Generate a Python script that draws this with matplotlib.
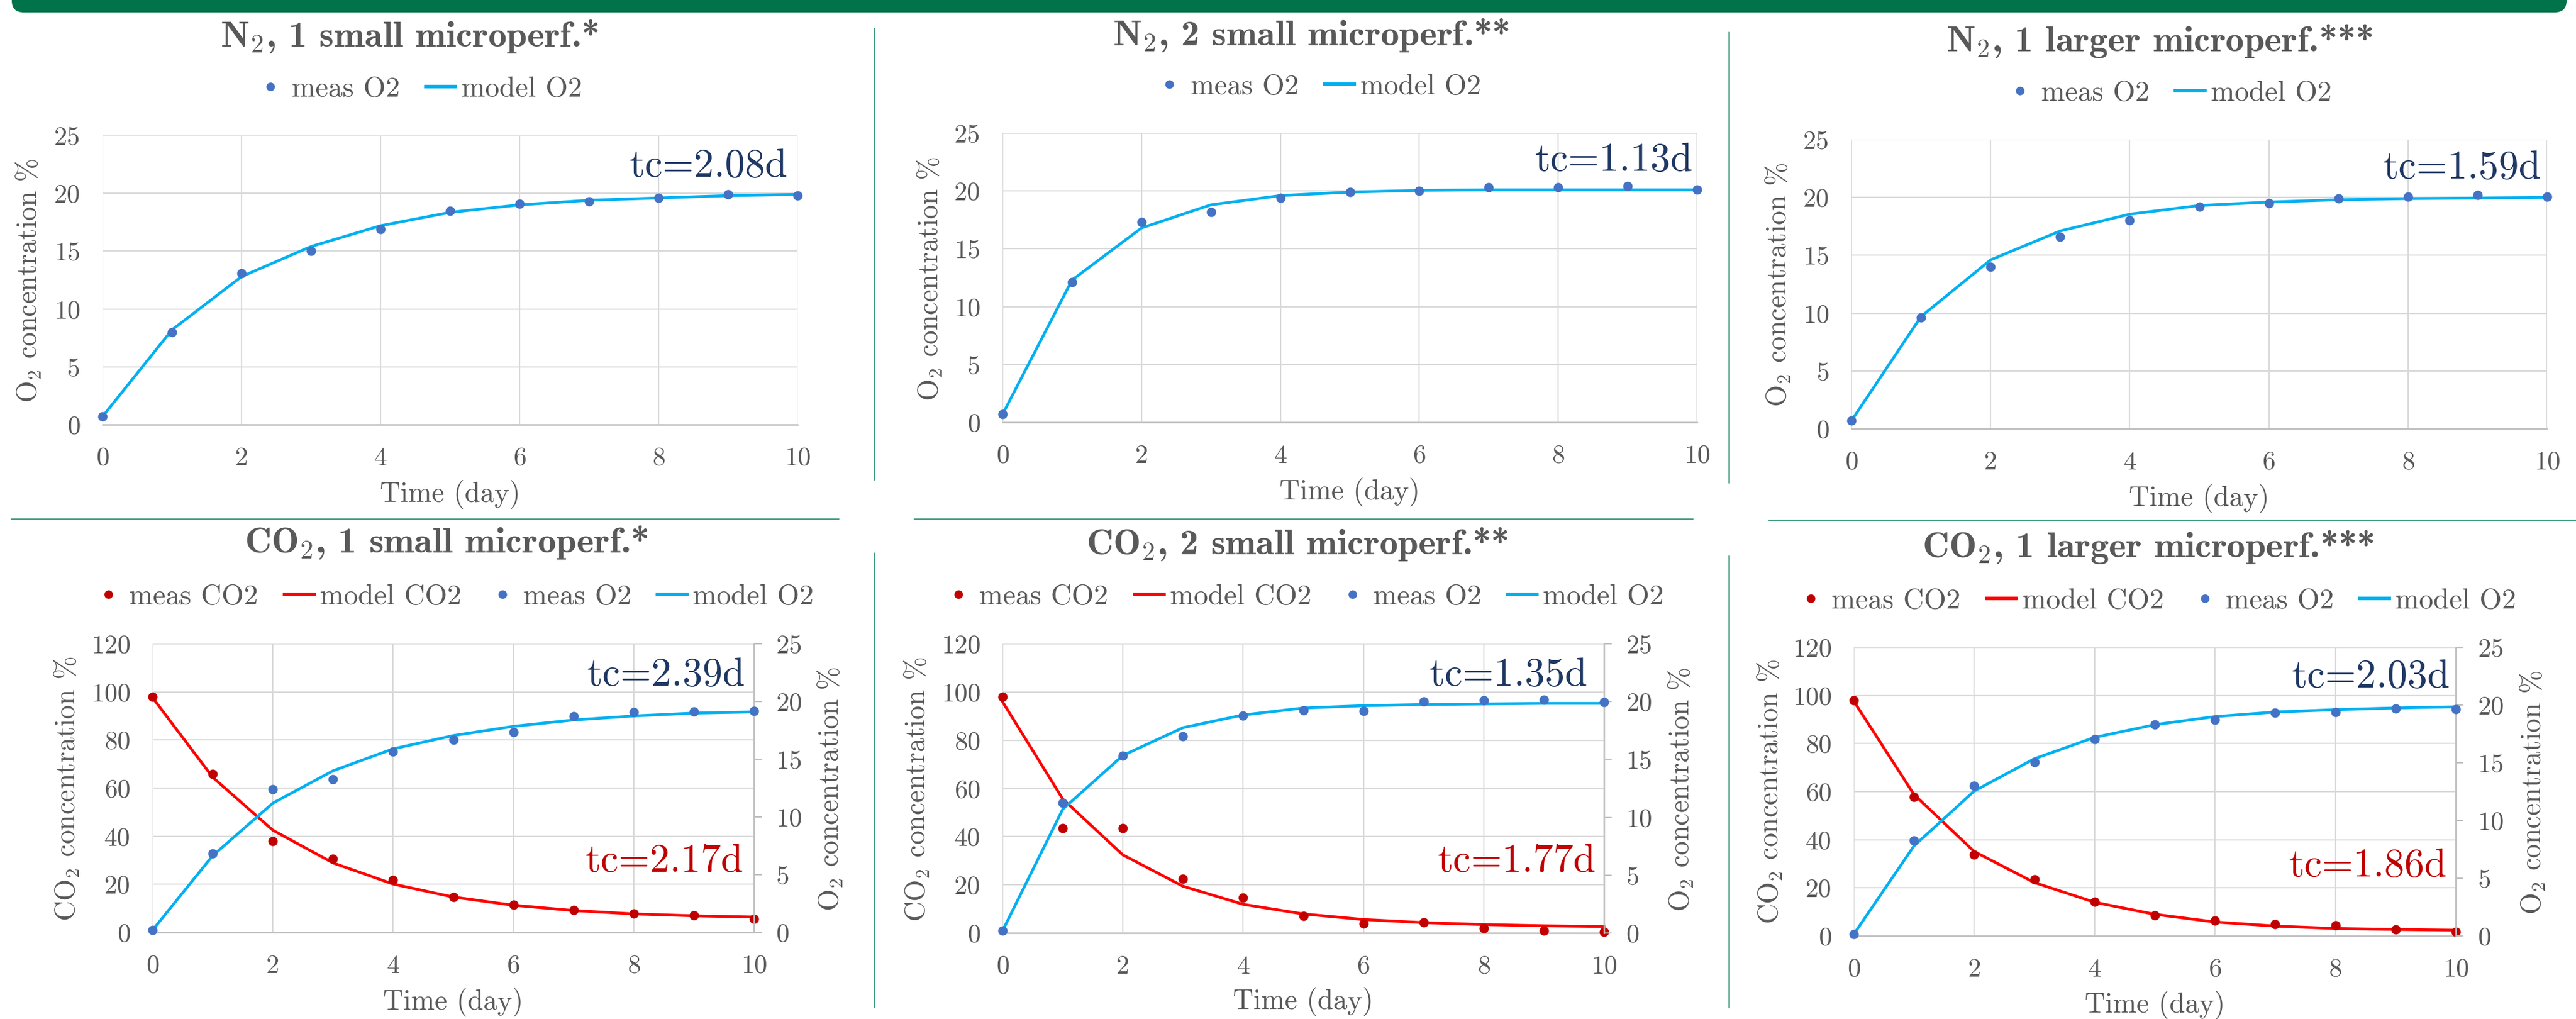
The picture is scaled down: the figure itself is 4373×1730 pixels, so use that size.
import matplotlib
matplotlib.use("Agg")
import matplotlib.pyplot as plt
from matplotlib.lines import Line2D
from matplotlib.patches import FancyBboxPatch

# ---- data ----
days = [0, 1, 2, 3, 4, 5, 6, 7, 8, 9, 10]

n2_small1_meas = [0.7, 8.0, 13.1, 15.0, 16.9, 18.5, 19.1, 19.3, 19.6, 19.9, 19.8]
n2_small1_model = [0.7, 8.2, 12.8, 15.4, 17.2, 18.35, 19.0, 19.4, 19.6, 19.8, 19.9]
n2_small2_meas = [0.7, 12.1, 17.3, 18.2, 19.4, 19.9, 20.0, 20.3, 20.3, 20.4, 20.1]
n2_small2_model = [0.7, 12.3, 16.8, 18.8, 19.6, 19.9, 20.05, 20.1, 20.1, 20.1, 20.1]
n2_large_meas = [0.7, 9.6, 14.0, 16.6, 18.0, 19.2, 19.5, 19.9, 20.05, 20.2, 20.05]
n2_large_model = [0.7, 9.7, 14.6, 17.1, 18.55, 19.3, 19.6, 19.8, 19.9, 19.95, 20.0]

co2_small1_meas_co2 = [98.0, 65.9, 37.9, 30.7, 21.7, 14.8, 11.5, 9.2, 7.9, 7.1, 5.6]
co2_small1_model_co2 = [97.6, 64.5, 42.5, 28.9, 20.1, 14.7, 11.3, 9.1, 7.7, 6.9, 6.4]
co2_small1_meas_o2 = [0.2, 6.85, 12.4, 13.25, 15.65, 16.7, 17.35, 18.7, 19.1, 19.15, 19.2]
co2_small1_model_o2 = [0.2, 6.65, 11.2, 14.0, 15.9, 17.05, 17.85, 18.4, 18.75, 19.0, 19.1]

co2_small2_meas_co2 = [97.9, 43.5, 43.5, 22.4, 14.6, 7.0, 3.8, 4.5, 1.9, 0.9, 0.4]
co2_small2_model_co2 = [95.9, 55.6, 32.4, 19.4, 11.9, 7.9, 5.6, 4.3, 3.5, 3.0, 2.7]
co2_small2_meas_o2 = [0.2, 11.25, 15.35, 17.0, 18.8, 19.25, 19.2, 20.0, 20.1, 20.15, 19.95]
co2_small2_model_o2 = [0.2, 10.7, 15.35, 17.75, 18.85, 19.45, 19.65, 19.75, 19.8, 19.85, 19.85]

co2_large_meas_co2 = [97.9, 57.9, 33.8, 23.6, 14.3, 8.6, 6.25, 4.9, 4.5, 2.7, 1.6]
co2_large_model_co2 = [97.6, 58.8, 35.1, 22.2, 14.0, 9.0, 5.8, 4.1, 3.1, 2.7, 2.4]
co2_large_meas_o2 = [0.15, 8.25, 13.0, 15.05, 17.05, 18.3, 18.75, 19.35, 19.4, 19.7, 19.65]
co2_large_model_o2 = [0.15, 7.8, 12.55, 15.35, 17.2, 18.3, 19.0, 19.4, 19.6, 19.75, 19.85]

top_titles = [r"$\mathbf{N_2}$, 1 small microperf.*",
              r"$\mathbf{N_2}$, 2 small microperf.**",
              r"$\mathbf{N_2}$, 1 larger microperf.***"]
bottom_titles = [r"$\mathbf{CO_2}$, 1 small microperf.*",
                 r"$\mathbf{CO_2}$, 2 small microperf.**",
                 r"$\mathbf{CO_2}$, 1 larger microperf.***"]
top_tc = ["tc=2.08d", "tc=1.13d", "tc=1.59d"]
bottom_tc_o2 = ["tc=2.39d", "tc=1.35d", "tc=2.03d"]
bottom_tc_co2 = ["tc=2.17d", "tc=1.77d", "tc=1.86d"]
x_ticks = [0, 2, 4, 6, 8, 10]
o2_ticks = [0, 5, 10, 15, 20, 25]
co2_ticks = [0, 20, 40, 60, 80, 100, 120]

# ---- style ----
W, H = 4373, 1730
DPI = 100
O2_DOT = "#4472C4"
O2_LINE = "#00B0F0"
CO2_DOT = "#C00000"
CO2_LINE = "#FF0000"
NAVY = "#1F3864"
TEXT = "#595959"
GRID = "#D9D9D9"
AXLINE = "#BFBFBF"
GREEN = "#00734A"
DIVIDER = "#3B9A78"

plt.rcParams["font.family"] = ["cmr10", "DejaVu Serif"]
plt.rcParams["mathtext.fontset"] = "cm"
plt.rcParams["axes.formatter.use_mathtext"] = True

TICK_FS = 32
LABEL_FS = 34.5
TITLE_FS = 45
LEGEND_FS = 35
TC_FS = 49
LW = 3.4
MS = 10.5


def px_box(l, t, r, b):
    return [l / W, 1 - b / H, (r - l) / W, (b - t) / H]


def fx(x):
    return x / W


def fy(y):
    return 1 - y / H


fig = plt.figure(figsize=(W / DPI, H / DPI), dpi=DPI)

# background decorations in pixel space
deco = fig.add_axes([0, 0, 1, 1], zorder=-5)
deco.set_xlim(0, W)
deco.set_ylim(H, 0)
deco.axis("off")
deco.add_patch(FancyBboxPatch((20, -40), 4337, 61, boxstyle="round,pad=0,rounding_size=20",
                              facecolor=GREEN, edgecolor="none"))
for x0, x1, y in [(19, 1423, 881), (1552, 2873, 881), (3003, W, 883)]:
    deco.plot([x0, x1], [y, y], color=DIVIDER, lw=1.8)
for x, segs in [(1484, [(48, 814), (939, 1710)]), (2935, [(55, 819), (944, 1710)])]:
    for y0, y1 in segs:
        deco.plot([x, x], [y0, y1], color=DIVIDER, lw=1.8)


def style_axes(ax, yticks):
    ax.set_xlim(0, 10)
    ax.set_ylim(yticks[0], yticks[-1])
    ax.set_xticks(x_ticks)
    ax.set_xticklabels([str(v) for v in x_ticks])
    ax.set_yticks(yticks)
    ax.set_yticklabels([str(v) for v in yticks])
    ax.grid(True, color=GRID, lw=1.6, zorder=0)
    ax.set_axisbelow(True)
    for side in ["top", "left", "right"]:
        ax.spines[side].set_visible(False)
    ax.spines["bottom"].set_color(AXLINE)
    ax.spines["bottom"].set_linewidth(1.8)
    ax.tick_params(axis="both", length=0, labelsize=TICK_FS, labelcolor=TEXT)
    ax.tick_params(axis="x", pad=27)
    ax.tick_params(axis="y", pad=27)


def add_legend(handles, labels, cx, cy):
    fig.legend(handles, labels, loc="center", bbox_to_anchor=(fx(cx), fy(cy)),
               ncol=len(handles), frameon=False, fontsize=LEGEND_FS, labelcolor=TEXT,
               handlelength=1.15, handletextpad=0.15, columnspacing=0.85, numpoints=1,
               borderaxespad=0, borderpad=0)


def dot_handle(c):
    return Line2D([], [], ls="none", marker="o", ms=MS * 0.9, color=c)


def line_handle(c):
    return Line2D([], [], color=c, lw=LW * 1.3, solid_capstyle="butt")


# ---- top row: N2 flushed, O2 only ----
top_boxes = [(174, 230, 1354, 721), (1702, 226, 2881, 717), (3143, 237, 4324, 728)]
top_title_xy = [(695, 62), (2225, 60), (3666, 70)]
top_legend_xy = [(710, 152), (2236, 148), (3680, 159)]
top_ylabel_xy = [(48, 476), (1578, 473), (3018, 483)]
top_tc_pos = [(0.986, 0.894), (0.994, 0.906), (0.992, 0.902)]
top_meas = [n2_small1_meas, n2_small2_meas, n2_large_meas]
top_model = [n2_small1_model, n2_small2_model, n2_large_model]

for i in range(3):
    ax = fig.add_axes(px_box(*top_boxes[i]))
    ax.plot(days, top_model[i], color=O2_LINE, lw=LW, zorder=3, clip_on=False)
    ax.plot(days, top_meas[i], ls="none", marker="o", ms=MS, color=O2_DOT, zorder=4, clip_on=False)
    style_axes(ax, o2_ticks)
    ax.text(top_tc_pos[i][0], top_tc_pos[i][1], top_tc[i], transform=ax.transAxes,
            ha="right", va="center", fontsize=TC_FS, color=NAVY)
    ax.set_xlabel("Time (day)", fontsize=LABEL_FS, color=TEXT, va="center")
    ax.xaxis.set_label_coords(0.5, -118 / 491)
    fig.text(fx(top_ylabel_xy[i][0]), fy(top_ylabel_xy[i][1]), r"O$_2$ concentration %",
             rotation=90, ha="center", va="center", fontsize=LABEL_FS, color=TEXT)
    fig.text(fx(top_title_xy[i][0]), fy(top_title_xy[i][1]), top_titles[i],
             ha="center", va="center", fontsize=TITLE_FS, color=TEXT, family=["cmb10"])
    add_legend([dot_handle(O2_DOT), line_handle(O2_LINE)], ["meas O2", "model O2"],
               *top_legend_xy[i])

# ---- bottom row: CO2 flushed, CO2 (left) and O2 (right) ----
bot_boxes = [(259, 1093, 1280, 1583), (1702, 1093, 2723, 1584), (3147, 1099, 4169, 1589)]
bot_title_xy = [(757, 921), (2202, 924), (3646, 929)]
bot_legend_xy = [(769, 1014), (2212, 1014), (3659, 1021)]
bot_ylabel_l = [(113, 1339), (1556, 1340), (3004, 1344)]
bot_ylabel_r = [(1409, 1339), (2853, 1340), (4299, 1345)]
bot_xlabel_y = [1701, 1700, 1706]
bot_tc_o2_pos = [(0.985, 0.892), (0.973, 0.892), (0.990, 0.898)]
bot_tc_co2_pos = [(0.983, 0.247), (0.987, 0.248), (0.985, 0.243)]
bot_meas_co2 = [co2_small1_meas_co2, co2_small2_meas_co2, co2_large_meas_co2]
bot_model_co2 = [co2_small1_model_co2, co2_small2_model_co2, co2_large_model_co2]
bot_meas_o2 = [co2_small1_meas_o2, co2_small2_meas_o2, co2_large_meas_o2]
bot_model_o2 = [co2_small1_model_o2, co2_small2_model_o2, co2_large_model_o2]

for i in range(3):
    l, t, r, b = bot_boxes[i]
    ax = fig.add_axes(px_box(l, t, r, b))
    ax.plot(days, bot_model_co2[i], color=CO2_LINE, lw=LW, zorder=3, clip_on=False)
    ax.plot(days, bot_meas_co2[i], ls="none", marker="o", ms=MS, color=CO2_DOT, zorder=4, clip_on=False)
    style_axes(ax, co2_ticks)

    ax2 = ax.twinx()
    ax2.plot(days, bot_model_o2[i], color=O2_LINE, lw=LW, zorder=3, clip_on=False)
    ax2.plot(days, bot_meas_o2[i], ls="none", marker="o", ms=MS, color=O2_DOT, zorder=4, clip_on=False)
    ax2.set_xlim(0, 10)
    ax2.set_ylim(0, 25)
    ax2.set_yticks(o2_ticks)
    ax2.set_yticklabels([str(v) for v in o2_ticks])
    for side in ["top", "left", "bottom"]:
        ax2.spines[side].set_visible(False)
    ax2.spines["right"].set_color(AXLINE)
    ax2.spines["right"].set_linewidth(1.8)
    ax2.tick_params(axis="y", length=9, width=1.6, color=AXLINE, labelsize=TICK_FS,
                    labelcolor=TEXT, pad=18)

    ax2.text(bot_tc_o2_pos[i][0], bot_tc_o2_pos[i][1], bottom_tc_o2[i], transform=ax.transAxes,
             ha="right", va="center", fontsize=TC_FS, color=NAVY, zorder=6)
    ax2.text(bot_tc_co2_pos[i][0], bot_tc_co2_pos[i][1], bottom_tc_co2[i], transform=ax.transAxes,
             ha="right", va="center", fontsize=TC_FS, color=CO2_DOT, zorder=6)
    fig.text(fx((l + r) / 2), fy(bot_xlabel_y[i]), "Time (day)", ha="center", va="center",
             fontsize=LABEL_FS, color=TEXT)
    fig.text(fx(bot_ylabel_l[i][0]), fy(bot_ylabel_l[i][1]), r"CO$_2$ concentration %",
             rotation=90, ha="center", va="center", fontsize=LABEL_FS, color=TEXT)
    fig.text(fx(bot_ylabel_r[i][0]), fy(bot_ylabel_r[i][1]), r"O$_2$ concentration %",
             rotation=90, ha="center", va="center", fontsize=LABEL_FS, color=TEXT)
    fig.text(fx(bot_title_xy[i][0]), fy(bot_title_xy[i][1]), bottom_titles[i],
             ha="center", va="center", fontsize=TITLE_FS, color=TEXT, family=["cmb10"])
    add_legend([dot_handle(CO2_DOT), line_handle(CO2_LINE), dot_handle(O2_DOT), line_handle(O2_LINE)],
               ["meas CO2", "model CO2", "meas O2", "model O2"], *bot_legend_xy[i])

fig.savefig("out.png", dpi=DPI, facecolor="white")
